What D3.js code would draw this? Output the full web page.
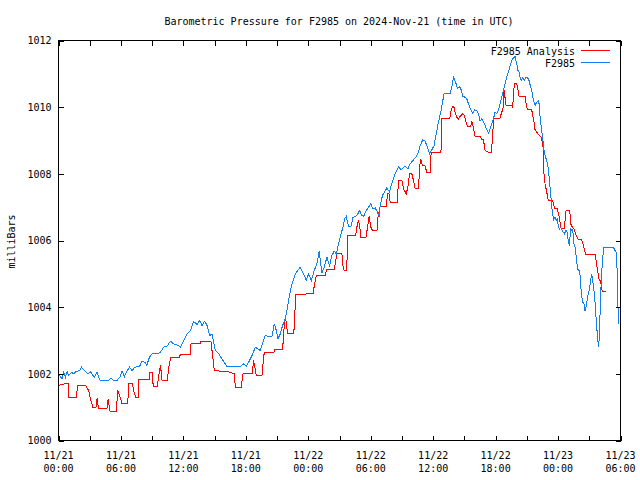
<!DOCTYPE html>
<html><head><meta charset="utf-8">
<script src="https://cdn.jsdelivr.net/npm/d3@7"></script>
<style>
body{margin:0;background:#fff}
svg{display:block}
text{font-family:"DejaVu Sans Mono","Liberation Mono",monospace;font-size:10px;fill:#000}
</style>
</head><body>
<svg id="chart" width="640" height="480"></svg>
<script>
// ---------- data ----------
const chartTitle = "Barometric Pressure for F2985 on 2024-Nov-21 (time in UTC)";
const yAxisLabel = "milliBars";
const seriesNames = ["F2985 Analysis", "F2985"];
const seriesColors = ["#ff0000", "#1080f0"];
const startTime = "2024-11-21T00:00:00Z";
const endTime = "2024-11-23T06:00:00Z";
const yTickValues = [1000, 1002, 1004, 1006, 1008, 1010, 1012];
const xLabelHours = [0, 6, 12, 18, 24, 30, 36, 42, 48, 54];
const xMinorHours = [3, 9, 15, 21, 27, 33, 39, 45, 51];

// [hours since start, millibars]
const analysisReadings = [
[0,1001.65],[0.6,1001.7],[0.95,1001.7],[1.0,1001.28],[1.75,1001.28],[1.8,1001.65],[2.6,1001.65],[2.9,1001.5],[3.07,1001.25],[3.3,1001.0],
[3.6,1001.0],[3.71,1001.28],[3.85,1000.95],[4.65,1000.95],[4.77,1001.25],[4.95,1000.88],[5.55,1000.88],[5.7,1001.5],[5.95,1001.28],[6.1,1001.1],
[6.65,1001.1],[6.75,1001.7],[7.1,1001.7],[7.3,1001.4],[7.45,1001.28],[7.65,1001.28],[7.71,1001.82],[8.7,1001.82],[8.77,1002.05],[9.05,1002.05],
[9.09,1001.62],[9.5,1001.62],[9.6,1001.9],[9.8,1002.25],[9.95,1001.8],[10.45,1001.8],[10.6,1002.2],[10.8,1002.5],[11.6,1002.5],[11.7,1002.57],
[12.65,1002.57],[12.73,1002.9],[13.6,1002.9],[13.69,1002.97],[14.65,1002.97],[14.75,1002.7],[14.97,1002.1],[16.5,1002.05],[16.67,1002.02],[16.9,1002.02],
[16.99,1001.6],[17.55,1001.6],[17.73,1002.0],[18.6,1002.0],[18.75,1002.4],[19.0,1001.95],[19.55,1001.95],[19.65,1002.3],[19.77,1002.65],[20.7,1002.65],
[20.77,1002.72],[21.5,1002.72],[21.57,1002.9],[21.73,1003.6],[21.85,1003.6],[21.95,1003.35],[22.05,1003.2],[22.6,1003.2],[22.69,1003.6],[22.78,1004.38],
[23.75,1004.38],[23.81,1004.42],[24.5,1004.42],[24.57,1004.65],[24.77,1004.95],[25.65,1004.95],[25.73,1005.12],[26.5,1005.12],[26.59,1005.3],[26.75,1005.62],
[27.23,1005.62],[27.33,1005.25],[27.45,1005.1],[27.7,1005.1],[27.77,1006.15],[28.55,1006.15],[28.67,1006.4],[28.83,1006.62],[28.99,1006.3],[29.05,1006.1],
[29.55,1006.1],[29.69,1006.4],[29.85,1006.72],[30.01,1006.4],[30.17,1006.3],[30.6,1006.3],[30.69,1006.7],[30.91,1007.02],[31.5,1007.02],[31.61,1007.4],
[31.75,1007.42],[31.87,1007.15],[32.55,1007.15],[32.67,1007.8],[33.0,1007.8],[33.15,1007.55],[33.41,1007.4],[33.6,1007.65],[33.73,1008.0],[33.95,1008.0],
[34.11,1007.8],[34.27,1007.55],[34.6,1007.55],[34.69,1008.2],[34.81,1008.45],[34.91,1008.3],[35.01,1008.25],[35.2,1008.25],[35.39,1008.05],[35.7,1008.05],
[35.81,1008.65],[36.75,1008.65],[36.83,1009.65],[37.6,1009.65],[37.69,1009.85],[37.85,1010.02],[38.0,1010.0],[38.11,1009.85],[38.27,1009.7],[38.43,1009.65],
[38.65,1009.75],[38.85,1009.8],[39.01,1009.75],[39.13,1009.58],[39.29,1009.42],[39.6,1009.42],[39.71,1009.58],[39.87,1009.38],[40.03,1009.12],[40.55,1009.12],
[40.61,1009.05],[40.83,1009.02],[40.99,1008.7],[41.31,1008.65],[41.6,1008.65],[41.73,1009.2],[41.79,1009.65],[42.4,1009.65],[42.49,1009.75],[42.75,1010.0],
[42.81,1010.5],[43.01,1010.05],[43.55,1010.05],[43.65,1010.0],[43.71,1010.4],[43.81,1010.72],[44.03,1010.72],[44.13,1010.55],[44.25,1010.32],[44.83,1010.32],
[44.93,1010.1],[45.05,1009.92],[45.47,1009.92],[45.57,1009.75],[45.69,1009.55],[45.79,1009.32],[46.11,1009.18],[46.33,1009.12],[46.43,1009.05],[46.59,1008.75],
[46.65,1008.0],[46.75,1007.7],[46.85,1007.55],[47.01,1007.3],[47.07,1007.2],[47.49,1007.2],[47.55,1007.1],[47.71,1006.95],[47.93,1006.95],[48.03,1006.8],
[48.13,1006.7],[48.25,1006.4],[48.35,1006.35],[48.57,1006.35],[48.67,1006.6],[48.77,1006.9],[49.09,1006.9],[49.15,1006.8],[49.21,1006.5],[49.41,1006.38],
[49.53,1006.35],[49.69,1006.2],[49.85,1006.08],[49.95,1006.02],[50.27,1006.02],[50.43,1005.85],[50.59,1005.65],[50.69,1005.58],[51.55,1005.58],[51.65,1005.4],
[51.71,1005.25],[51.81,1005.1],[51.87,1004.95],[51.97,1004.8],[52.09,1004.8],[52.19,1004.55],[52.29,1004.47],[52.61,1004.47]
];

const stationReadings = [
[0.05,1001.95],[0.1,1001.95],[0.35,1001.85],[0.51,1002.05],[0.67,1001.9],[0.83,1002.07],[0.99,1001.95],[1.25,1002.05],[1.47,1002.0],[1.7,1002.07],
[2.02,1002.1],[2.21,1002.2],[2.43,1002.12],[2.66,1002.05],[2.85,1002.0],[3.07,1002.07],[3.3,1001.95],[3.46,1001.9],[3.71,1002.05],[3.87,1001.9],
[4.03,1001.8],[4.83,1001.8],[5.06,1001.87],[5.31,1001.8],[5.63,1001.8],[5.95,1001.93],[6.11,1002.08],[6.34,1001.92],[6.53,1002.05],[6.82,1002.2],
[7.07,1002.1],[7.33,1002.2],[7.78,1002.22],[8.03,1002.38],[8.29,1002.35],[8.48,1002.25],[8.74,1002.5],[9.0,1002.6],[9.47,1002.6],[9.79,1002.65],
[10.11,1002.8],[10.43,1002.83],[10.75,1002.98],[11.07,1002.9],[11.39,1002.87],[11.71,1002.8],[12.03,1003.0],[12.35,1003.2],[12.67,1003.3],[12.99,1003.57],
[13.31,1003.48],[13.57,1003.6],[13.79,1003.45],[14.05,1003.58],[14.27,1003.45],[14.53,1003.15],[14.75,1003.2],[15.07,1002.7],[15.39,1002.6],[15.71,1002.45],
[16.19,1002.22],[17.47,1002.22],[17.79,1002.3],[18.05,1002.22],[18.27,1002.35],[18.59,1002.55],[18.91,1002.8],[19.13,1002.75],[19.39,1002.7],[19.71,1003.0],
[19.87,1003.15],[20.19,1003.12],[20.51,1003.12],[20.73,1003.5],[20.93,1003.3],[21.09,1003.05],[21.31,1003.2],[21.53,1003.45],[21.79,1003.65],[21.95,1003.9],
[22.11,1004.2],[22.27,1004.45],[22.43,1004.7],[22.59,1004.85],[22.75,1005.0],[23.23,1005.2],[23.55,1005.0],[23.81,1004.8],[24.03,1005.0],[24.29,1004.8],
[24.57,1005.1],[24.83,1005.3],[25.05,1005.68],[25.31,1005.02],[25.53,1005.2],[25.79,1005.5],[26.05,1005.25],[26.27,1005.55],[26.49,1005.68],[26.69,1005.6],
[26.91,1005.9],[27.07,1006.1],[27.33,1006.4],[27.49,1006.65],[27.65,1006.72],[27.87,1006.42],[28.09,1006.42],[28.29,1006.68],[28.51,1006.72],[28.67,1006.75],
[28.93,1006.9],[29.15,1006.75],[29.31,1006.72],[29.57,1006.9],[29.79,1007.0],[30.01,1007.1],[30.2,1006.95],[30.43,1006.98],[30.65,1006.85],[30.81,1006.72],
[30.91,1007.05],[31.13,1007.35],[31.33,1007.45],[31.55,1007.58],[31.81,1007.45],[31.97,1007.65],[32.13,1007.8],[32.35,1008.02],[32.51,1008.1],[32.67,1008.2],
[32.93,1008.12],[33.15,1008.2],[33.37,1008.22],[33.57,1008.15],[33.79,1008.3],[34.11,1008.42],[34.37,1008.52],[34.59,1008.65],[34.75,1008.85],[35.01,1009.02],
[35.2,1009.0],[35.45,1008.8],[35.65,1008.6],[35.87,1008.72],[36.09,1008.85],[36.29,1009.2],[36.51,1009.55],[36.73,1009.85],[36.93,1010.2],[37.05,1010.42],
[37.63,1010.42],[37.79,1010.6],[37.95,1010.9],[38.05,1010.82],[38.21,1010.7],[38.33,1010.55],[38.53,1010.62],[38.69,1010.52],[38.85,1010.32],[39.07,1010.3],
[39.23,1010.25],[39.39,1010.1],[39.61,1009.92],[39.81,1009.82],[39.97,1009.92],[40.19,1009.9],[40.35,1009.8],[40.51,1009.58],[40.67,1009.65],[40.83,1009.55],
[40.99,1009.45],[41.15,1009.32],[41.31,1009.22],[41.47,1009.35],[41.63,1009.5],[41.79,1009.65],[41.95,1009.85],[42.11,1009.8],[42.27,1009.9],[42.43,1010.1],
[42.59,1010.3],[42.75,1010.52],[42.91,1010.7],[43.07,1010.9],[43.23,1011.05],[43.39,1011.25],[43.55,1011.4],[43.71,1011.48],[43.87,1011.52],[44.03,1011.3],
[44.15,1011.1],[44.25,1011.05],[44.35,1010.9],[44.45,1010.8],[44.61,1010.9],[44.77,1010.8],[44.93,1010.9],[45.05,1010.9],[45.21,1010.8],[45.37,1010.6],
[45.47,1010.5],[45.63,1010.2],[45.79,1010.05],[45.95,1010.15],[46.11,1010.2],[46.21,1010.05],[46.27,1009.7],[46.43,1009.3],[46.53,1009.05],[46.65,1008.7],
[46.75,1008.55],[46.91,1008.4],[47.07,1008.15],[47.17,1007.8],[47.29,1007.4],[47.39,1007.0],[47.49,1006.8],[47.55,1006.62],[47.71,1006.7],[47.81,1006.6],
[47.93,1006.65],[48.03,1006.4],[48.13,1006.35],[48.25,1006.4],[48.35,1006.32],[48.51,1006.25],[48.61,1006.2],[48.77,1006.3],[48.89,1006.25],[48.99,1005.95],
[49.09,1005.85],[49.15,1006.1],[49.21,1006.35],[49.31,1006.3],[49.41,1006.32],[49.47,1006.1],[49.53,1005.9],[49.63,1005.8],[49.73,1005.55],[49.85,1005.2],
[49.95,1005.1],[50.05,1005.1],[50.11,1004.95],[50.17,1004.65],[50.27,1004.35],[50.37,1004.15],[50.49,1004.1],[50.59,1003.9],[50.69,1004.0],[50.81,1004.25],
[50.91,1004.4],[51.01,1004.55],[51.13,1004.8],[51.23,1005.0],[51.33,1004.8],[51.45,1004.5],[51.55,1004.15],[51.65,1003.7],[51.71,1003.4],[51.81,1003.1],
[51.87,1002.8],[51.97,1003.1],[52.03,1003.75],[52.09,1004.35],[52.19,1005.0],[52.29,1005.5],[52.41,1005.8],[53.31,1005.8],[53.47,1005.7],[53.57,1005.65],
[53.69,1005.05],[53.73,1004.5],[53.79,1003.5]
];

// ---------- drawing ----------
const svg = d3.select("#chart");
const plotLeft = 58.5, plotRight = 620.5, plotTop = 40.5, plotBottom = 440.5;
const t0 = new Date(startTime);
const toDate = h => new Date(t0.getTime() + h * 3600e3);

const x = d3.scaleUtc().domain([t0, new Date(endTime)]).range([plotLeft, plotRight]);
const y = d3.scaleLinear().domain([1000, 1012]).range([plotBottom, plotTop]);

const fmtDate = d3.utcFormat("%m/%d");
const fmtTime = d3.utcFormat("%H:%M");
const allXTicks = xLabelHours.concat(xMinorHours).map(toDate);

// series (red first, blue on top)
const line = d3.line().x(d => x(toDate(d[0]))).y(d => y(d[1]));
[analysisReadings, stationReadings].forEach((data, i) => {
  svg.append("path").datum(data)
    .attr("d", line)
    .attr("fill", "none")
    .attr("stroke", seriesColors[i])
    .attr("stroke-width", 1)
    .attr("shape-rendering", "crispEdges");
});

// frame
svg.append("rect").attr("x", plotLeft).attr("y", plotTop)
  .attr("width", plotRight - plotLeft).attr("height", plotBottom - plotTop)
  .attr("fill", "none").attr("stroke", "#000").attr("stroke-width", 1)
  .attr("shape-rendering", "crispEdges");

function styleAxis(g) {
  g.select(".domain").remove();
  g.attr("font-size", null).attr("font-family", null);
  g.selectAll(".tick line").attr("stroke", "#000").attr("shape-rendering", "crispEdges");
}

// bottom axis (inward ticks) + two-line labels
const gB = svg.append("g").attr("transform", `translate(0,${plotBottom})`)
  .call(d3.axisBottom(x).tickValues(allXTicks).tickSize(-5).tickFormat(""));
styleAxis(gB);
gB.selectAll(".tick text").remove();
const lbl = svg.append("g");
xLabelHours.map(toDate).forEach(d => {
  const t = lbl.append("text").attr("text-anchor", "middle");
  t.append("tspan").attr("x", x(d)).attr("y", 459).text(fmtDate(d));
  t.append("tspan").attr("x", x(d)).attr("y", 471.5).text(fmtTime(d));
});

// top axis mirror
const gT = svg.append("g").attr("transform", `translate(0,${plotTop})`)
  .call(d3.axisTop(x).tickValues(allXTicks).tickSize(-5).tickFormat(""));
styleAxis(gT);
gT.selectAll(".tick text").remove();

// left axis
const gL = svg.append("g").attr("transform", `translate(${plotLeft},0)`)
  .call(d3.axisLeft(y).tickValues(yTickValues).tickSize(-5).tickPadding(7).tickFormat(d3.format("d")));
styleAxis(gL);
gL.selectAll(".tick text").attr("fill", "#000");

// right axis mirror
const gR = svg.append("g").attr("transform", `translate(${plotRight},0)`)
  .call(d3.axisRight(y).tickValues(yTickValues).tickSize(-5).tickFormat(""));
styleAxis(gR);
gR.selectAll(".tick text").remove();

// title
svg.append("text").attr("x", 339).attr("y", 24.5).attr("text-anchor", "middle").text(chartTitle);

// y label
svg.append("text").attr("transform", "translate(15,241.5) rotate(-90)")
  .attr("text-anchor", "middle").text(yAxisLabel);

// legend
seriesNames.forEach((name, i) => {
  const yy = 50.5 + i * 12;
  svg.append("text").attr("x", 575).attr("y", yy + 4).attr("text-anchor", "end").text(name);
  svg.append("line").attr("x1", 581).attr("x2", 610).attr("y1", yy).attr("y2", yy)
    .attr("stroke", seriesColors[i]).attr("stroke-width", 1).attr("shape-rendering", "crispEdges");
});
</script>
</body></html>
